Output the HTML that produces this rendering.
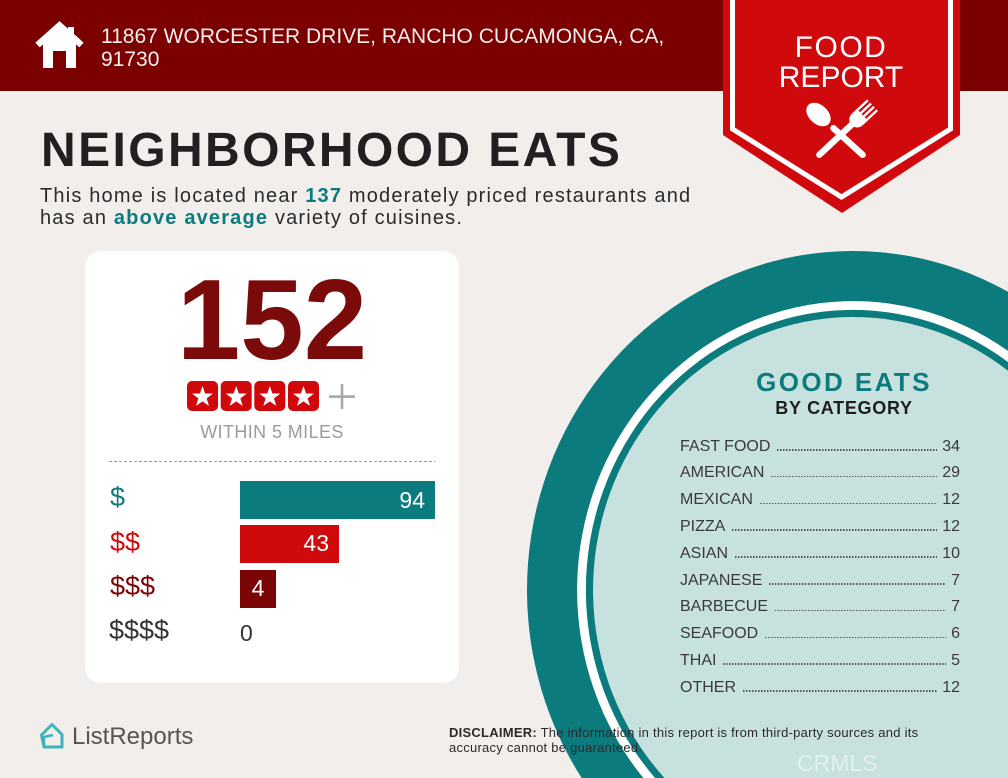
<!DOCTYPE html>
<html>
<head>
<meta charset="utf-8">
<style>
  html{margin:0;padding:0;width:1008px;height:778px;overflow:hidden;}
  body{margin:0;padding:0;width:1008px;height:778px;overflow:hidden;position:relative;background:#f2eeeb;font-family:"Liberation Sans",Arial,sans-serif;}
  .t{position:absolute;white-space:nowrap;}
  svg.bg{position:absolute;left:0;top:0;overflow:hidden;}
  .row{position:absolute;left:680px;width:280px;height:16px;line-height:16px;font-size:16px;color:#3a3a3a;display:flex;align-items:baseline;}
  .row .ld{flex:1;height:1.5px;margin:0 5px 0 7px;background:repeating-linear-gradient(to right,#555 0 1.3px,transparent 1.3px 3px);}
</style>
</head>
<body>
<svg class="bg" width="1008" height="778" viewBox="0 0 1008 778">
  <!-- header -->
  <rect x="0" y="0" width="1008" height="91" fill="#7b0000"/>
  <!-- house icon -->
  <polygon points="43,43 59.5,29 76,43 76,68 66,68 66,51 53,51 53,68 43,68" fill="#fff"/>
  <polyline points="37.5,45 59.5,25.5 81.5,45" fill="none" stroke="#fff" stroke-width="6.5" stroke-linejoin="miter"/>
  <rect x="68" y="27" width="6" height="10" fill="#fff"/>
  <!-- banner -->
  <polygon points="723,0 960,0 960,135 842,213 723,135" fill="#d0090c"/>
  <path d="M732.5,2 L732.5,129 L841.5,197 L950.5,129 L950.5,2" fill="none" stroke="#fff" stroke-width="5" stroke-linejoin="miter"/>
  <rect x="730" y="0" width="5" height="3" fill="#fff"/>
  <rect x="948" y="0" width="5" height="3" fill="#fff"/>
  <!-- spoon -->
  <g transform="translate(865,157) rotate(-47.6)" fill="#fff">
    <rect x="-3.2" y="-46" width="6.4" height="46" rx="3.2"/>
    <ellipse cx="0" cy="-63" rx="9.5" ry="14"/>
  </g>
  <!-- fork -->
  <g transform="translate(817,157) rotate(47)" fill="#fff" stroke="none">
    <rect x="-3.2" y="-50" width="6.4" height="50" rx="3.2"/>
    <path d="M-8,-62 L8,-62 L8,-56 Q8,-48 0,-47 Q-8,-48 -8,-56 Z"/>
    <rect x="-8" y="-76" width="2.4" height="15"/>
    <rect x="-3.4" y="-76" width="2.4" height="15"/>
    <rect x="1.0" y="-76" width="2.4" height="15"/>
    <rect x="5.6" y="-76" width="2.4" height="15"/>
  </g>
  <!-- card -->
  <rect x="85" y="251" width="374" height="432" rx="16" ry="16" fill="#ffffff"/>
  <!-- stars -->
  <g>
    <rect x="187" y="381" width="31" height="30" rx="5" fill="#d0070b"/>
    <rect x="220.7" y="381" width="31" height="30" rx="5" fill="#d0070b"/>
    <rect x="254.3" y="381" width="31" height="30" rx="5" fill="#d0070b"/>
    <rect x="288" y="381" width="31" height="30" rx="5" fill="#d0070b"/>
    <g fill="#fff">
      <polygon transform="translate(187,381)" points="15.5,5 18.09,12.44 25.96,12.6 19.68,17.36 21.97,24.9 15.5,20.4 9.03,24.9 11.32,17.36 5.04,12.6 12.91,12.44"/>
      <polygon transform="translate(220.7,381)" points="15.5,5 18.09,12.44 25.96,12.6 19.68,17.36 21.97,24.9 15.5,20.4 9.03,24.9 11.32,17.36 5.04,12.6 12.91,12.44"/>
      <polygon transform="translate(254.3,381)" points="15.5,5 18.09,12.44 25.96,12.6 19.68,17.36 21.97,24.9 15.5,20.4 9.03,24.9 11.32,17.36 5.04,12.6 12.91,12.44"/>
      <polygon transform="translate(288,381)" points="15.5,5 18.09,12.44 25.96,12.6 19.68,17.36 21.97,24.9 15.5,20.4 9.03,24.9 11.32,17.36 5.04,12.6 12.91,12.44"/>
    </g>
    <rect x="329" y="395.3" width="26" height="2.6" fill="#a8a8a8"/>
    <rect x="340.7" y="384" width="2.6" height="25" fill="#a8a8a8"/>
  </g>
  <!-- dashed line -->
  <line x1="109" y1="461.5" x2="435" y2="461.5" stroke="#9a9a9a" stroke-width="1" stroke-dasharray="3,2"/>
  <!-- bars -->
  <rect x="240" y="481" width="195" height="38" fill="#0c7b7e"/>
  <rect x="240" y="525" width="99" height="38" fill="#cf0a0c"/>
  <rect x="240" y="570" width="36" height="38" fill="#7b0505"/>
  <!-- plate (ellipse arcs clipped to the frame) -->
  <path d="M581.7,778 A326 339 0 0 1 1008,291.8 L1008,778 Z" fill="#0b7b7d"/>
  <path d="M643.4,778 A276 289 0 0 1 1008,350.9 L1008,778 Z" fill="#ffffff"/>
  <path d="M655.1,778 A267 280 0 0 1 1008,362 L1008,778 Z" fill="#0b7b7d"/>
  <path d="M664.5,778 A260 273 0 0 1 1008,370.8 L1008,778 Z" fill="#c7e1df"/>
  <!-- ListReports icon -->
  <path d="M41.5,735 L52,724.5 L62,734.5 L62,747 L44,747 Z" fill="none" stroke="#3fb4bd" stroke-width="3" stroke-linejoin="round"/>
  <path d="M44,747 L44,737 L53,735" fill="none" stroke="#3fb4bd" stroke-width="2.5" stroke-linejoin="round"/>
</svg>

<!-- header text -->
<div class="t" style="left:101px;top:24.5px;font-size:21px;line-height:23px;color:#f5eeee;">11867 WORCESTER DRIVE, RANCHO CUCAMONGA, CA,<br>91730</div>

<!-- banner text -->
<div class="t" style="left:741px;width:200px;text-align:center;top:33px;font-size:30px;line-height:30px;color:#fff;letter-spacing:1.5px;">FOOD</div>
<div class="t" style="left:741px;width:200px;text-align:center;top:63px;font-size:30px;line-height:30px;color:#fff;">REPORT</div>

<!-- title -->
<div class="t" style="left:41px;top:127px;font-size:48px;line-height:48px;font-weight:bold;color:#231f20;letter-spacing:2.4px;">NEIGHBORHOOD EATS</div>
<div class="t" style="left:40px;top:184.5px;font-size:20px;line-height:22px;color:#2b2b2b;letter-spacing:1.18px;">This home is located near <b style="color:#0c7b7e">137</b> moderately priced restaurants and<br>has an <b style="color:#0c7b7e">above average</b> variety of cuisines.</div>

<!-- card text -->
<div class="t" style="left:85px;width:374px;text-align:center;top:263.5px;font-size:114px;line-height:114px;font-weight:bold;color:#7b0a0a;">152</div>
<div class="t" style="left:85px;width:374px;text-align:center;top:423px;font-size:18px;line-height:18px;color:#9b9b9b;letter-spacing:0.4px;">WITHIN 5 MILES</div>

<div class="t" style="left:110px;top:484px;font-size:27px;line-height:27px;color:#0c7b7e;">$</div>
<div class="t" style="left:110px;top:528.5px;font-size:27px;line-height:27px;color:#cf0a0c;">$$</div>
<div class="t" style="left:110px;top:572.5px;font-size:27px;line-height:27px;color:#7b0505;">$$$</div>
<div class="t" style="left:109px;top:617px;font-size:27px;line-height:27px;color:#333;">$$$$</div>

<div class="t" style="left:325px;width:100px;text-align:right;top:489px;font-size:23px;line-height:23px;color:#fff;">94</div>
<div class="t" style="left:229px;width:100px;text-align:right;top:532px;font-size:23px;line-height:23px;color:#fff;">43</div>
<div class="t" style="left:240px;width:36px;text-align:center;top:577px;font-size:23px;line-height:23px;color:#fff;">4</div>
<div class="t" style="left:240px;top:622px;font-size:23px;line-height:23px;color:#333;">0</div>

<!-- good eats -->
<div class="t" style="left:694px;width:300px;text-align:center;top:368.7px;font-size:26px;line-height:26px;font-weight:bold;color:#0c7b7e;letter-spacing:2.4px;">GOOD EATS</div>
<div class="t" style="left:694px;width:300px;text-align:center;top:398.8px;font-size:18px;line-height:18px;font-weight:bold;color:#1f1f1f;letter-spacing:0.7px;">BY CATEGORY</div>

<div class="row" style="top:438.5px;"><span>FAST FOOD</span><span class="ld"></span><span>34</span></div>
<div class="row" style="top:465.3px;"><span>AMERICAN</span><span class="ld"></span><span>29</span></div>
<div class="row" style="top:492.1px;"><span>MEXICAN</span><span class="ld"></span><span>12</span></div>
<div class="row" style="top:518.9px;"><span>PIZZA</span><span class="ld"></span><span>12</span></div>
<div class="row" style="top:545.7px;"><span>ASIAN</span><span class="ld"></span><span>10</span></div>
<div class="row" style="top:572.5px;"><span>JAPANESE</span><span class="ld"></span><span>7</span></div>
<div class="row" style="top:599.3px;"><span>BARBECUE</span><span class="ld"></span><span>7</span></div>
<div class="row" style="top:626.1px;"><span>SEAFOOD</span><span class="ld"></span><span>6</span></div>
<div class="row" style="top:652.9px;"><span>THAI</span><span class="ld"></span><span>5</span></div>
<div class="row" style="top:679.7px;"><span>OTHER</span><span class="ld"></span><span>12</span></div>

<!-- footer -->
<div class="t" style="left:72px;top:724.7px;font-size:24px;line-height:24px;color:#555;">ListReports</div>
<div class="t" style="left:449px;top:725px;font-size:13px;line-height:15px;color:#2a2a2a;letter-spacing:0.25px;"><b>DISCLAIMER:</b> The information in this report is from third-party sources and its<br>accuracy cannot be guaranteed.</div>
<div class="t" style="left:797px;top:752px;height:25px;font-size:23px;line-height:23px;color:rgba(255,255,255,0.5);">CRMLS</div>
</body>
</html>
